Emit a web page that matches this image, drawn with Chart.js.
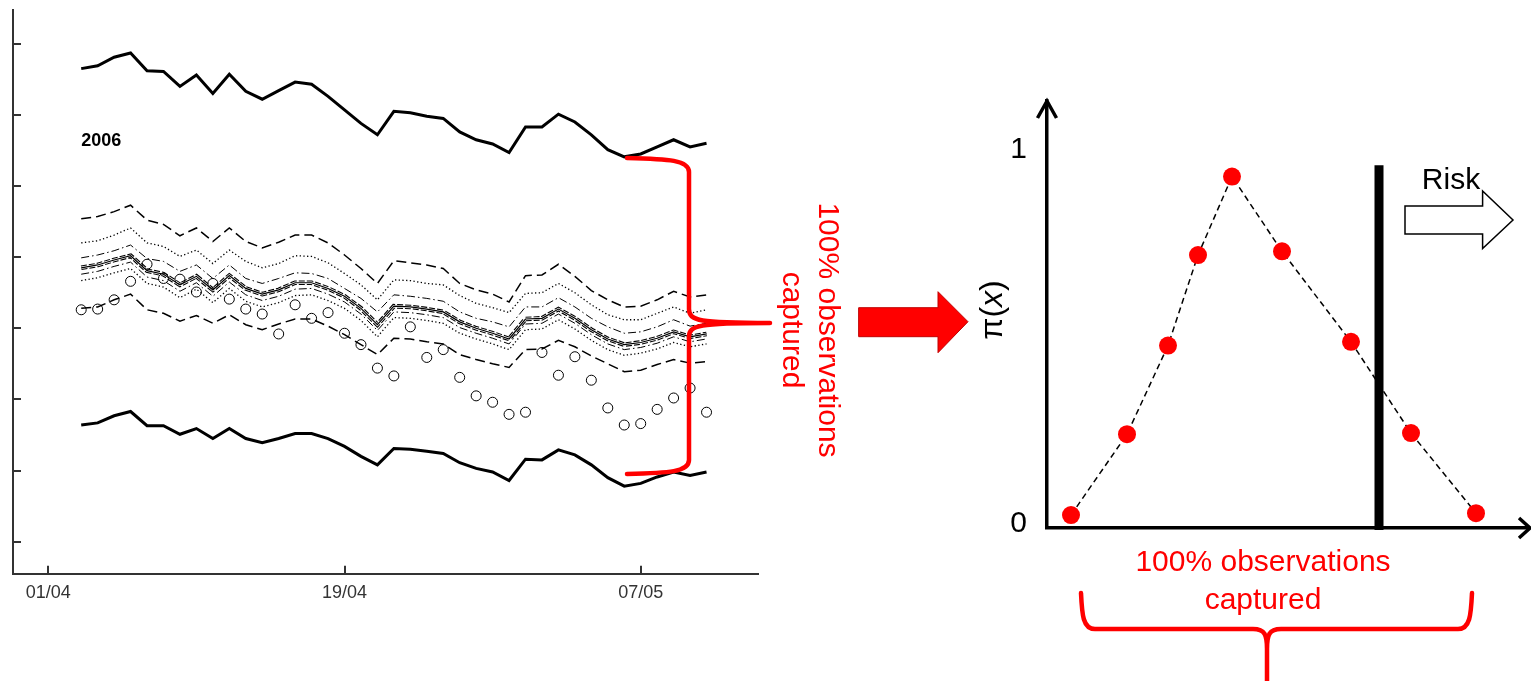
<!DOCTYPE html>
<html>
<head>
<meta charset="utf-8">
<script src="https://cdn.jsdelivr.net/npm/chart.js@4.4.1/dist/chart.umd.min.js"></script>
<style>
  html, body { margin: 0; padding: 0; background: #fff; overflow: hidden; }
  #wrap { position: relative; width: 1531px; height: 681px; }
  canvas { position: absolute; left: 0; top: 0; }
</style>
</head>
<body>
<div id="wrap">
  <canvas id="band" width="1531" height="681"></canvas>
  <canvas id="pi" width="1531" height="681"></canvas>
</div>
<script>
// ---- Left panel: daily forecast band, 03/04 .. 11/05 (day 0 = 01/04) ----
const dayTicks = [0, 18, 36];
const dayLabels = ['01/04', '19/04', '07/05'];
const firstDay = 2;
const levelTicks = [10, 20, 30, 40, 50, 60, 70, 80];
const yearLabel = '2006';
const yearLabelLevel = 66.3;

const outerUpper = [76.5, 76.9, 78.1, 78.7, 76.2, 76.1, 74.0, 75.6, 73.0, 75.7, 73.3, 72.2, 73.4, 74.6, 74.3, 72.6, 70.7, 68.8, 67.2, 70.5, 70.3, 69.8, 69.5, 67.6, 66.5, 65.9, 64.7, 68.3, 68.3, 70.1, 69.0, 67.2, 65.1, 64.1, 64.5, 65.5, 66.5, 65.5, 66.0];
const upperDashed = [55.4, 55.7, 56.4, 57.3, 55.2, 54.6, 53.0, 54.1, 52.2, 54.1, 52.2, 51.3, 52.1, 53.1, 53.1, 52.0, 50.3, 48.4, 46.3, 49.5, 49.2, 48.9, 48.4, 46.3, 45.4, 44.8, 43.7, 47.4, 47.5, 49.0, 47.3, 45.3, 44.0, 43.0, 43.1, 44.0, 45.2, 44.4, 44.7];
const upperDotted = [52.0, 52.3, 53.1, 54.1, 52.0, 51.5, 50.1, 51.0, 49.1, 51.0, 49.4, 48.5, 49.1, 50.2, 50.1, 49.2, 47.7, 46.1, 44.0, 46.8, 46.7, 46.3, 46.1, 44.6, 43.5, 42.9, 42.2, 44.9, 45.0, 46.3, 45.0, 43.3, 41.9, 41.2, 41.2, 42.1, 43.0, 42.1, 42.6];
const upperDashDot = [49.9, 50.3, 50.9, 51.7, 49.8, 49.4, 48.0, 48.9, 47.0, 48.9, 47.0, 46.3, 47.0, 47.8, 47.7, 47.0, 45.6, 44.2, 42.3, 44.7, 44.5, 44.2, 43.8, 42.3, 41.4, 40.9, 40.2, 43.0, 43.0, 44.3, 43.0, 41.4, 40.2, 39.3, 39.5, 40.2, 41.2, 40.3, 40.7];
const median = [48.5, 48.9, 49.6, 50.2, 48.1, 47.6, 46.1, 47.3, 45.4, 47.4, 45.6, 44.8, 45.4, 46.4, 46.4, 45.6, 44.5, 42.8, 40.5, 43.1, 43.0, 42.7, 42.3, 40.9, 40.0, 39.3, 38.5, 41.3, 41.4, 42.7, 41.4, 39.8, 38.5, 37.7, 38.0, 38.6, 39.5, 38.8, 39.2];
const lowerDashDot = [47.6, 48.0, 48.7, 49.3, 47.2, 46.7, 45.2, 46.4, 44.5, 46.5, 44.7, 43.9, 44.5, 45.5, 45.6, 44.8, 43.7, 42.0, 39.7, 42.3, 42.2, 41.9, 41.5, 40.1, 39.3, 38.6, 37.8, 40.6, 40.7, 42.0, 40.7, 39.1, 37.8, 37.0, 37.3, 37.9, 38.8, 38.1, 38.5];
const lowerDotted = [46.7, 47.1, 47.8, 48.4, 46.3, 45.8, 44.3, 45.5, 43.6, 45.6, 43.8, 43.0, 43.6, 44.6, 44.7, 43.9, 42.8, 41.1, 38.8, 41.5, 41.4, 41.1, 40.7, 39.3, 38.5, 37.8, 37.0, 39.8, 39.9, 41.2, 39.9, 38.3, 37.0, 36.2, 36.5, 37.1, 38.0, 37.4, 37.8];
const lowerDashed = [42.8, 43.0, 44.0, 44.8, 42.6, 42.1, 41.0, 41.8, 40.7, 41.9, 40.5, 39.8, 40.6, 41.3, 41.3, 40.3, 39.1, 37.7, 36.3, 38.6, 38.5, 38.1, 37.8, 36.3, 35.6, 35.0, 34.5, 37.0, 37.1, 38.3, 37.4, 36.1, 35.0, 33.9, 34.1, 34.9, 35.6, 35.1, 35.3];
const outerLower = [26.4, 26.7, 27.7, 28.3, 26.3, 26.3, 25.1, 25.9, 24.5, 25.9, 24.5, 23.9, 24.5, 25.2, 25.2, 24.5, 23.4, 22.0, 20.8, 23.1, 23.0, 22.7, 22.4, 21.1, 20.3, 19.8, 18.6, 21.6, 21.5, 22.9, 22.2, 20.8, 19.0, 17.8, 18.2, 19.1, 19.8, 19.3, 19.8];
const observed = [42.6, 42.7, 44.0, 46.6, 49.0, 47.0, 46.9, 45.1, 46.3, 44.1, 42.7, 42.0, 39.2, 43.3, 41.4, 42.2, 39.3, 37.7, 34.4, 33.3, 40.2, 35.9, 37.0, 33.1, 30.5, 29.6, 27.9, 28.2, 36.6, 33.4, 36.0, 32.7, 28.8, 26.4, 26.6, 28.6, 30.2, 31.6, 28.2];

// ---- Right panel: membership values pi(x) ----
const piX = [2.4, 8.0, 12.1, 15.1, 18.5, 23.5, 30.4, 36.4, 42.9];
const piY = [0.024, 0.24, 0.477, 0.719, 0.929, 0.729, 0.487, 0.243, 0.029];
const piTicks = [0, 1];
const riskThreshold = 33.2;
const riskSpan = [-0.016, 0.959];

const captionLines = ['100% observations', 'captured'];
const FONT = '"Liberation Sans", Arial, Helvetica, sans-serif';
const RED = '#ff0000';

Chart.defaults.font.family = FONT;

const byDay = arr => arr.map((v, i) => ({ x: firstDay + i, y: v }));

function lineSet(values, width, dash, color) {
  return {
    data: byDay(values), showLine: true, borderColor: color || '#000',
    borderWidth: width, borderDash: dash || [], pointRadius: 0,
    borderJoinStyle: 'miter', tension: 0
  };
}

// Red curly brace opening toward +x (tip on the right)
function braceRight(ctx, xTail, xSpine, xTip, yTop, yMid, yBot) {
  ctx.beginPath();
  ctx.moveTo(xTail, yTop);
  ctx.bezierCurveTo(xSpine - 20, yTop + 1, xSpine, yTop + 2, xSpine, yTop + 14);
  ctx.lineTo(xSpine, yMid - 14);
  ctx.bezierCurveTo(xSpine, yMid - 2, xSpine + 10, yMid, xTip, yMid);
  ctx.moveTo(xTip, yMid);
  ctx.bezierCurveTo(xSpine + 10, yMid, xSpine, yMid + 2, xSpine, yMid + 14);
  ctx.lineTo(xSpine, yBot - 14);
  ctx.bezierCurveTo(xSpine, yBot - 2, xSpine - 20, yBot - 1, xTail, yBot);
  ctx.stroke();
}

// Red curly brace opening downward (tip at the bottom)
function braceDown(ctx, xL, xR, xMid, yTail, yBar, yTip) {
  ctx.beginPath();
  ctx.moveTo(xL, yTail);
  ctx.bezierCurveTo(xL + 1, yBar - 14, xL + 2, yBar, xL + 14, yBar);
  ctx.lineTo(xMid - 14, yBar);
  ctx.bezierCurveTo(xMid - 2, yBar, xMid, yBar + 6, xMid, yBar + 20);
  ctx.lineTo(xMid, yTip);
  ctx.moveTo(xMid, yBar + 20);
  ctx.bezierCurveTo(xMid, yBar + 6, xMid + 2, yBar, xMid + 14, yBar);
  ctx.lineTo(xR - 14, yBar);
  ctx.bezierCurveTo(xR - 2, yBar, xR - 1, yBar - 14, xR, yTail);
  ctx.stroke();
}

const bandDecor = {
  id: 'bandDecor',
  afterDraw(chart) {
    const { ctx, scales: { x, y }, chartArea: a } = chart;
    ctx.save();
    // inward tick marks
    ctx.strokeStyle = '#333';
    ctx.lineWidth = 2;
    ctx.beginPath();
    y.ticks.forEach(t => {
      const py = Math.round(y.getPixelForValue(t.value));
      ctx.moveTo(a.left, py); ctx.lineTo(a.left + 8, py);
    });
    x.ticks.forEach(t => {
      const px = Math.round(x.getPixelForValue(t.value));
      ctx.moveTo(px, a.bottom); ctx.lineTo(px, a.bottom - 8);
    });
    ctx.stroke();

    // year tag
    ctx.fillStyle = '#000';
    ctx.font = 'bold 18px ' + FONT;
    ctx.textAlign = 'left';
    ctx.textBaseline = 'middle';
    ctx.fillText(yearLabel, x.getPixelForValue(firstDay), y.getPixelForValue(yearLabelLevel));

    // brace spanning the outer bounds
    ctx.strokeStyle = RED;
    ctx.lineWidth = 4.5;
    ctx.lineCap = 'round';
    braceRight(ctx, 627, 689, 770, 158, 323, 474);

    // rotated caption
    ctx.fillStyle = RED;
    ctx.font = '30px ' + FONT;
    ctx.textAlign = 'center';
    ctx.textBaseline = 'alphabetic';
    [[819, captionLines[0]], [783, captionLines[1]]].forEach(([cx, txt]) => {
      ctx.save();
      ctx.translate(cx, 330);
      ctx.rotate(Math.PI / 2);
      ctx.fillText(txt, 0, 0);
      ctx.restore();
    });

    // block arrow toward the right panel
    ctx.beginPath();
    ctx.moveTo(859, 307.7); ctx.lineTo(938, 307.7); ctx.lineTo(938, 291.7);
    ctx.lineTo(968, 321.7); ctx.lineTo(938, 352.7); ctx.lineTo(938, 336.7);
    ctx.lineTo(859, 336.7); ctx.closePath();
    ctx.fillStyle = RED;
    ctx.fill();
    ctx.strokeStyle = '#c00000';
    ctx.lineWidth = 1;
    ctx.stroke();
    ctx.restore();
  }
};

new Chart(document.getElementById('band'), {
  type: 'scatter',
  data: {
    datasets: [
      {
        data: byDay(observed), showLine: false, pointStyle: 'circle', pointRadius: 5,
        pointBorderWidth: 1, pointBorderColor: '#000', pointBackgroundColor: 'rgba(0,0,0,0)'
      },
      // median: solid core hugged by two fine dashed strokes
      lineSet(median, 1.2),
      lineSet(median, 2.4, [], '#fff'),
      lineSet(median, 4.6, [6, 2]),
      lineSet(outerUpper, 3),
      lineSet(outerLower, 3),
      lineSet(upperDashed, 1.5, [10, 5]),
      lineSet(lowerDashed, 1.5, [10, 5]),
      lineSet(upperDotted, 1.3, [1.3, 2.4]),
      lineSet(lowerDotted, 1.3, [1.3, 2.4]),
      lineSet(upperDashDot, 1, [8, 3, 1.5, 3]),
      lineSet(lowerDashDot, 1, [8, 3, 1.5, 3])
    ]
  },
  options: {
    responsive: false, animation: false, devicePixelRatio: 1,
    layout: { autoPadding: false, padding: { left: 0, top: 10, right: 772.3, bottom: 0 } },
    plugins: { legend: { display: false }, tooltip: { enabled: false } },
    scales: {
      x: {
        type: 'linear', min: -2.145, max: 43.17,
        afterBuildTicks: s => { s.ticks = dayTicks.map(v => ({ value: v })); },
        afterFit: s => { s.height = 107.3; },
        grid: { display: false, drawTicks: false },
        border: { display: true, color: '#333', width: 2 },
        ticks: {
          autoSkip: false, maxRotation: 0, padding: 9, color: '#333',
          font: { size: 18, family: FONT },
          callback: v => { const k = dayTicks.indexOf(v); return k >= 0 ? dayLabels[k] : ''; }
        }
      },
      y: {
        min: 5.5, max: 84.74,
        afterBuildTicks: s => { s.ticks = levelTicks.map(v => ({ value: v })); },
        afterFit: s => { s.width = 13; },
        grid: { display: false, drawTicks: false },
        border: { display: true, color: '#333', width: 2 },
        ticks: { display: false }
      }
    }
  },
  plugins: [bandDecor]
});

const piDecor = {
  id: 'piDecor',
  afterDraw(chart) {
    const { ctx, chartArea: a } = chart;
    ctx.save();
    // open arrowheads on both axes
    ctx.strokeStyle = '#000';
    ctx.lineWidth = 3.5;
    ctx.lineJoin = 'miter';
    ctx.beginPath();
    ctx.moveTo(a.left - 9.5, a.top + 17); ctx.lineTo(a.left, a.top); ctx.lineTo(a.left + 9.5, a.top + 17);
    ctx.moveTo(a.right - 10, a.bottom - 10); ctx.lineTo(a.right + 1, a.bottom); ctx.lineTo(a.right - 10, a.bottom + 10);
    ctx.stroke();

    // y title: pi(x), read bottom to top
    ctx.save();
    ctx.translate(993, 310);
    ctx.rotate(-Math.PI / 2);
    ctx.fillStyle = '#000';
    ctx.textBaseline = 'middle';
    ctx.textAlign = 'left';
    const parts = [['π(', '32px ' + FONT], ['x', 'italic 32px ' + FONT], [')', '32px ' + FONT]];
    let total = 0;
    parts.forEach(([t, f]) => { ctx.font = f; total += ctx.measureText(t).width; });
    let px = -total / 2;
    parts.forEach(([t, f]) => { ctx.font = f; ctx.fillText(t, px, 0); px += ctx.measureText(t).width; });
    ctx.restore();

    // "Risk" with hollow arrow
    ctx.fillStyle = '#000';
    ctx.font = '30px ' + FONT;
    ctx.textAlign = 'center';
    ctx.textBaseline = 'alphabetic';
    ctx.fillText('Risk', 1451, 189);
    ctx.beginPath();
    ctx.moveTo(1405, 206); ctx.lineTo(1482.6, 206); ctx.lineTo(1482.6, 191);
    ctx.lineTo(1513, 220); ctx.lineTo(1482.6, 248.5); ctx.lineTo(1482.6, 234);
    ctx.lineTo(1405, 234); ctx.closePath();
    ctx.fillStyle = '#fff';
    ctx.fill();
    ctx.lineWidth = 1.5;
    ctx.lineJoin = 'miter';
    ctx.strokeStyle = '#000';
    ctx.stroke();

    // caption and brace under the axis
    ctx.fillStyle = RED;
    ctx.font = '30px ' + FONT;
    ctx.textAlign = 'center';
    ctx.fillText(captionLines[0], 1263, 571);
    ctx.fillText(captionLines[1], 1263, 609);
    ctx.strokeStyle = RED;
    ctx.lineWidth = 4.5;
    ctx.lineCap = 'round';
    braceDown(ctx, 1081, 1472, 1267, 593, 629, 690);
    ctx.restore();
  }
};

new Chart(document.getElementById('pi'), {
  type: 'scatter',
  data: {
    datasets: [
      {
        data: [{ x: riskThreshold, y: riskSpan[0] }, { x: riskThreshold, y: riskSpan[1] }],
        showLine: true, borderColor: '#000', borderWidth: 9, borderCapStyle: 'butt',
        pointRadius: 0, clip: false
      },
      {
        data: piX.map((v, i) => ({ x: v, y: piY[i] })),
        showLine: true, borderColor: '#000', borderWidth: 1.5, borderDash: [6, 4], tension: 0,
        pointRadius: 9, pointBackgroundColor: RED, pointBorderColor: RED, pointBorderWidth: 0,
        clip: false
      }
    ]
  },
  options: {
    responsive: false, animation: false, devicePixelRatio: 1,
    layout: { autoPadding: false, padding: { left: 980, top: 101, right: 2, bottom: 0 } },
    plugins: { legend: { display: false }, tooltip: { enabled: false } },
    scales: {
      x: {
        type: 'linear', min: 0, max: 48.2,
        afterFit: s => { s.height = 153; },
        grid: { display: false, drawTicks: false },
        border: { display: true, color: '#000', width: 3.5 },
        ticks: { display: false }
      },
      y: {
        min: -0.0107, max: 1.131,
        afterBuildTicks: s => { s.ticks = piTicks.map(v => ({ value: v })); },
        afterFit: s => { s.width = 67; },
        grid: { display: false, drawTicks: false },
        border: { display: true, color: '#000', width: 3.5 },
        ticks: { color: '#000', padding: 20, font: { size: 30, family: FONT } }
      }
    }
  },
  plugins: [piDecor]
});
</script>
</body>
</html>
